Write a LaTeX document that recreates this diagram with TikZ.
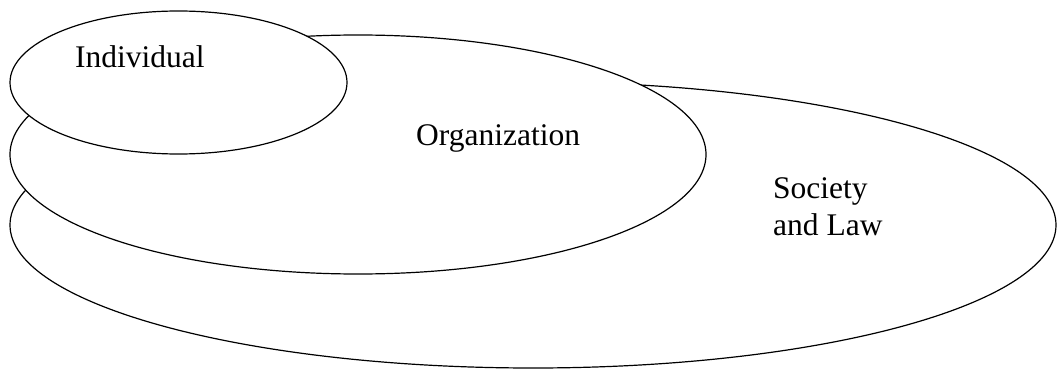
\documentclass[tikz,border=0pt]{standalone}
\usepackage{fontspec}
\setmainfont{Liberation Serif}
\usetikzlibrary{shapes.geometric}
\begin{document}
\begin{tikzpicture}[x=1pt,y=-1pt,
  layer/.style={ellipse,draw=black,line width=1.2pt,fill=white,inner sep=0pt},
  lbl/.style={anchor=base west,inner sep=0pt,font=\fontsize{31.5}{37}\selectfont}]
\useasboundingbox (0,0) rectangle (1058,369);
% nested spheres, outermost first
\node[layer,minimum width=1046pt,minimum height=286pt] (society) at (533,225) {};
\node[layer,minimum width=696pt,minimum height=239pt] (org) at (358,154.5) {};
\node[layer,minimum width=337pt,minimum height=143pt] (indiv) at (178.5,82.5) {};
% labels
\node[lbl] (tindiv) at (75,68) {Individual};
\node[lbl] (torg) at (416,145) {Organization};
\node[lbl] (tsoc1) at (773,198) {Society};
\node[lbl] (tsoc2) at (773,235) {and Law};
\end{tikzpicture}
\end{document}
